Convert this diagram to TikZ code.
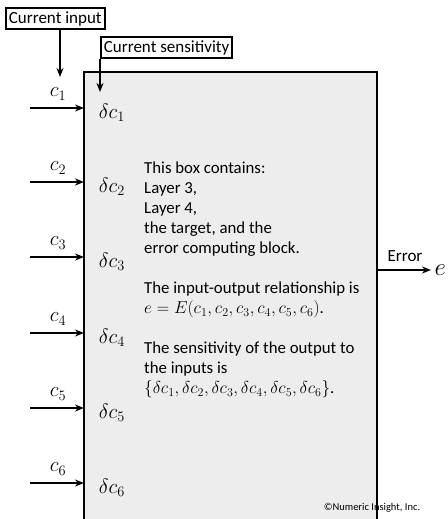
\documentclass[tikz,border=0pt]{standalone}
\usepackage{fontspec}
\setmainfont{Carlito}
\usetikzlibrary{arrows.meta,positioning,calc}
\definecolor{boxgray}{HTML}{EDEDED}

\begin{document}
\begin{tikzpicture}[x=1pt, y=-1pt,
        lbl/.style={draw, line width=1.8pt, inner xsep=3pt, inner ysep=3.5pt, font=\fontsize{17}{20}\selectfont},
        mth/.style={font=\fontsize{21}{24}\selectfont}]
        
        \clip (0,0) rectangle (447,519);
        
        % the block
        \fill [boxgray] (84,72) rectangle (377,530);
        \draw [line width=2.2pt] (84,530) -- (84,72) -- (377,72) -- (377,530);
        \coordinate (blkin) at (84,0);
        \coordinate (blkout) at (377,270);
        
        \node [lbl, anchor=north west] (curin) at (5,7) {Current input};
        \node [lbl, anchor=north west] (cursens) at (100,36) {Current sensitivity};
        \coordinate (curintip) at (60,77);
        \coordinate (cursenstip) at (100,92);
        
        \begin{scope}[line width=2.2pt, -{Stealth[length=9pt,width=7pt]}]
        \foreach \n/\y in {1/108,2/182,3/257,4/333,5/408,6/483}{
          \coordinate (in\n) at (30,\y);
          \draw (in\n) -- (blkin |- in\n);
          \node [mth] (c\n) at (58,\y-14) {$c_{\n}$};
          \node [mth] (dc\n) at (112,\y+5) {$\delta c_{\n}$};
        }
        \draw (curin.south -| curintip) -- (curintip);
        \draw (cursens.south west -| cursenstip) -- (cursenstip);
        \coordinate (errtip) at (431,270);
        \draw (blkout) -- (errtip);
        \end{scope}
        
        \node [font=\fontsize{17}{20}\selectfont] (errlbl) at (405,256) {Error};
        \node [font=\fontsize{23}{26}\selectfont, right=0pt of errtip] (e) {$e$};
        
        \node [anchor=north west, align=left, inner sep=0pt,
               font=\fontsize{16.8}{20}\selectfont] (desc) at (144,162) {%
          This box contains:\\
          Layer 3,\\
          Layer 4,\\
          the target, and the\\
          error computing block.\\[20pt]
          The input-output relationship is\\
          $e=E(c_1,c_2,c_3,c_4,c_5,c_6)$.\\[20pt]
          The sensitivity of the output to\\
          the inputs is\\
          $\{\delta c_1,\delta c_2,\delta c_3,\delta c_4,\delta c_5,\delta c_6\}$.};
        
        \node [font=\fontsize{10.5}{12}\selectfont] (copy) at (372,508) {©Numeric Insight, Inc.};
        
        \end{tikzpicture}
\end{document}
